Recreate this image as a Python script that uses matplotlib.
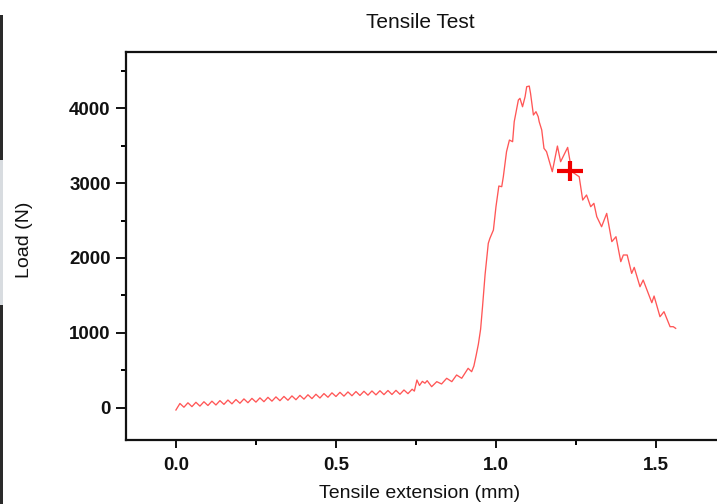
import matplotlib
matplotlib.use("Agg")
import matplotlib.pyplot as plt
from matplotlib.ticker import MultipleLocator
from matplotlib.patches import Rectangle

plt.rcParams['font.family'] = ['Liberation Sans', 'DejaVu Sans']

# Tensile extension (mm)
extension = [
    0.000, 0.0125, 0.025, 0.0375, 0.050, 0.0625, 0.075, 0.0875, 0.100, 0.1125,
    0.125, 0.1375, 0.150, 0.1625, 0.175, 0.1875, 0.200, 0.2125, 0.225, 0.2375,
    0.250, 0.2625, 0.275, 0.2875, 0.300, 0.3125, 0.325, 0.3375, 0.350, 0.3625,
    0.375, 0.3875, 0.400, 0.4125, 0.425, 0.4375, 0.450, 0.4625, 0.475, 0.4875,
    0.500, 0.5125, 0.525, 0.5375, 0.550, 0.5625, 0.575, 0.5875, 0.600, 0.6125,
    0.625, 0.6375, 0.650, 0.6625, 0.675, 0.6875, 0.700, 0.7125, 0.725, 0.738,
    0.745, 0.753, 0.761, 0.770, 0.778, 0.785, 0.799, 0.815, 0.830, 0.846,
    0.862, 0.877, 0.893, 0.913, 0.924, 0.931, 0.938, 0.945, 0.952, 0.958,
    0.966, 0.976, 0.981, 0.992, 1.000, 1.009, 1.018, 1.023, 1.033, 1.042,
    1.052, 1.057, 1.070, 1.075, 1.083, 1.091, 1.096, 1.104, 1.108, 1.117,
    1.125, 1.132, 1.135, 1.143, 1.150, 1.158, 1.176, 1.192, 1.202, 1.224,
    1.237, 1.252, 1.260, 1.271, 1.283, 1.296, 1.306, 1.315, 1.330, 1.346,
    1.362, 1.375, 1.390, 1.398, 1.410, 1.424, 1.432, 1.450, 1.460, 1.487,
    1.494, 1.5125, 1.525, 1.544, 1.554, 1.5615,
]

# Load (N)
load = [
    -27, 60, 10, 69, 18, 76, 25, 83, 33, 91,
    40, 98, 48, 106, 55, 113, 63, 121, 70, 128,
    78, 135, 84, 142, 91, 148, 97, 154, 103, 161,
    110, 168, 118, 176, 125, 183, 133, 192, 143, 202,
    153, 209, 158, 214, 163, 219, 167, 223, 171, 227,
    175, 230, 178, 233, 180, 235, 183, 240, 191, 250,
    225, 373, 300, 355, 330, 364, 284, 351, 320, 396,
    351, 440, 396, 529, 484, 560, 700, 850, 1050, 1351,
    1780, 2196, 2262, 2373, 2684, 2960, 2951, 3084, 3418, 3573,
    3551, 3817, 4107, 4129, 4017, 4151, 4284, 4293, 4196, 3907,
    3951, 3884, 3818, 3707, 3462, 3418, 3151, 3493, 3284, 3475,
    3151, 3107, 3084, 2773, 2840, 2684, 2729, 2551, 2417, 2595,
    2218, 2284, 1951, 2040, 2040, 1795, 1875, 1617, 1706, 1404,
    1493, 1217, 1284, 1084, 1084, 1062,
]

# Cursor marker
marker_x = [1.231]
marker_y = [3165]

x_ticks = [0.0, 0.5, 1.0, 1.5]
y_ticks = [0, 1000, 2000, 3000, 4000]

W, H = 717, 504
fig = plt.figure(figsize=(W / 100, H / 100), dpi=100)
fig.patch.set_facecolor('white')

# screenshot edge strip on the left
fig.patches.append(Rectangle((0, 0), 3 / W, 1 - 15 / H, transform=fig.transFigure,
                             facecolor='#2a2a2a', edgecolor='none'))
fig.patches.append(Rectangle((0, 1 - 305 / H), 3 / W, 145 / H, transform=fig.transFigure,
                             facecolor='#d8dce0', edgecolor='none'))

ax_left = 126 / W
ax_bottom = 1 - 440 / H
ax_w = 610 / W
ax_h = 388 / H
ax = fig.add_axes([ax_left, ax_bottom, ax_w, ax_h])

ax.plot(extension, load, color='#ff4d4d', lw=0.95, alpha=0.95)
ax.plot(marker_x, marker_y, marker='_', color='#f00000', ms=19, mew=3, ls='none')
ax.plot(marker_x, marker_y, marker='|', color='#f00000', ms=15, mew=3, ls='none')

ax.set_xlim(-0.156, 1.75)
ax.set_ylim(-427, 4747)
ax.set_xticks(x_ticks)
ax.set_xticklabels([f"{v:.1f}" for v in x_ticks])
ax.set_yticks(y_ticks)
ax.set_yticklabels([str(v) for v in y_ticks])
ax.xaxis.set_minor_locator(MultipleLocator(0.25))
ax.yaxis.set_minor_locator(MultipleLocator(500))

for s in ['left', 'bottom', 'top', 'right']:
    ax.spines[s].set_linewidth(1.6)
    ax.spines[s].set_color('#111111')

ax.tick_params(axis='both', which='major', direction='out', width=1.4, labelsize=13.5,
               colors='#111111')
ax.tick_params(axis='y', which='major', length=7, pad=4)
ax.tick_params(axis='x', which='major', length=6, pad=6)
ax.tick_params(axis='both', which='minor', direction='out', width=1.4, length=3.5)
ax.tick_params(top=False, right=False, which='both')
for lab in ax.get_xticklabels() + ax.get_yticklabels():
    lab.set_fontweight('bold')

ax.set_xlabel('Tensile extension (mm)', fontsize=14, color='#111111')
ax.xaxis.set_label_coords((420 - 126) / 610, -(493 - 440) / 388, transform=ax.transAxes)
ax.xaxis.label.set_va('center')
ax.set_ylabel('Load (N)', fontsize=14, color='#111111')
ax.yaxis.set_label_coords(-(126 - 25) / 610, (440 - 240) / 388, transform=ax.transAxes)
ax.yaxis.label.set_va('center')

fig.text(420 / W, 1 - 22 / H, 'Tensile Test', ha='center', va='center', fontsize=15,
         color='#111111')

fig.savefig('out.png', dpi=100)
